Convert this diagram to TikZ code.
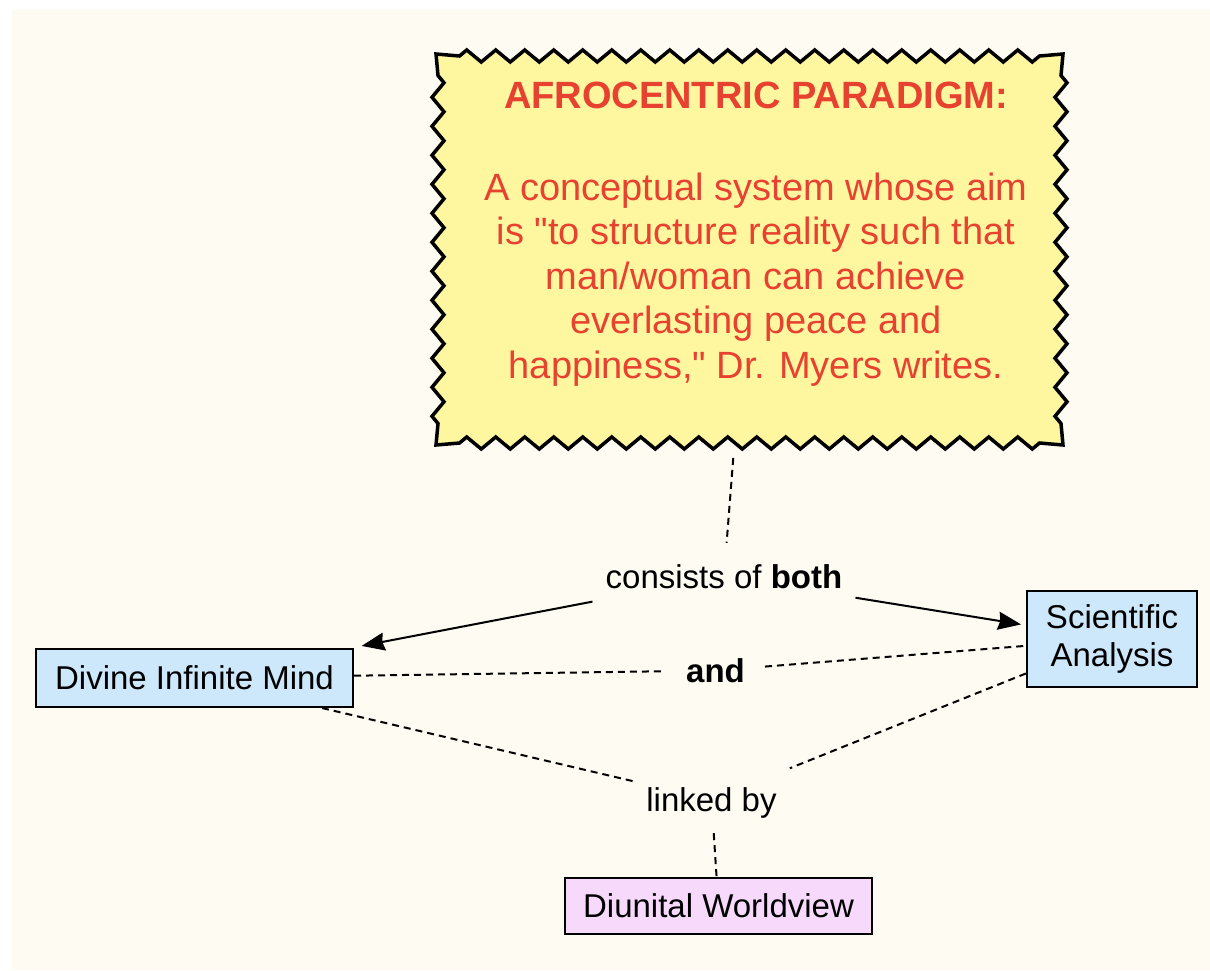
\documentclass[tikz,border=0pt]{standalone}
\usepackage{fontspec}
\setmainfont{Liberation Sans}
\usetikzlibrary{arrows.meta}
\definecolor{bgcream}{RGB}{254,251,243}
\definecolor{paryellow}{RGB}{255,246,160}
\definecolor{parred}{RGB}{231,65,48}
\definecolor{conblue}{RGB}{205,231,251}
\definecolor{conpink}{RGB}{246,217,251}
\begin{document}
\begin{tikzpicture}[x=1pt,y=-1pt,
  concept/.style={draw=black, line width=2pt, font=\fontsize{33}{38}\selectfont, inner sep=0pt, align=center},
  linklabel/.style={font=\fontsize{33}{38}\selectfont, text height=27pt, text depth=4pt, inner xsep=13pt, inner ysep=18pt},
  paratext/.style={font=\fontsize{38}{44.5}\selectfont, text=parred, align=center, inner sep=0pt},
  dashline/.style={draw=black, line width=2pt, dash pattern=on 7pt off 5pt},
  arrowline/.style={draw=black, line width=2pt, -{Stealth[length=23pt,width=18pt,inset=2pt]}},
  zigborder/.style={fill=paryellow, draw=black, line width=3.5pt, line join=miter}
]
\useasboundingbox (0,0) rectangle (1210,970);
\fill[white] (0,0) rectangle (1210,970);
\fill[bgcream] (12,9) rectangle (1210,970);

% paradigm box (627 x 391), zigzag border drawn around it
\node[minimum width=627pt, minimum height=391pt, inner sep=0pt, outer sep=0pt] (para) at (749.5,249.5) {};
\path[zigborder] (para.north west)
  -- ++(23.5,2)
  foreach \i in {1,...,20} { -- ++(7.25,-6) -- ++(14.5,12) -- ++(7.25,-6) }
  -- (para.north east)
  -- ++(-2,21.5)
  foreach \i in {1,...,12} { -- ++(6,7.25) -- ++(-12,14.5) -- ++(6,7.25) }
  -- (para.south east)
  -- ++(-23.5,-2)
  foreach \i in {1,...,20} { -- ++(-7.25,6) -- ++(-14.5,-12) -- ++(-7.25,6) }
  -- (para.south west)
  -- ++(2,-21.5)
  foreach \i in {1,...,12} { -- ++(-6,-7.25) -- ++(12,-14.5) -- ++(-6,-7.25) }
  -- cycle;
\node[paratext, anchor=north] (paratxt) at (756,82) {\textbf{AFROCENTRIC PARADIGM:}\\[47pt]
  A conceptual system whose aim\\ is \textquotedbl to structure reality such that\\ man/woman can achieve\\
  everlasting peace and\\ happiness,\textquotedbl{} Dr. Myers writes.};

% concepts
\node[concept, fill=conblue, minimum width=317pt, minimum height=58pt, text height=27pt, text depth=4pt] (divine) at (194.5,678) {Divine Infinite Mind};
\node[concept, fill=conblue, minimum width=170pt, minimum height=96pt] (sci) at (1112,639) {Scientific\\Analysis};
\node[concept, fill=conpink, minimum width=307pt, minimum height=56pt, text height=27pt, text depth=4pt] (diunital) at (718.5,906) {Diunital Worldview};

% linking phrases
\node[linklabel] (consists) at (724,576.5) {consists of \textbf{both}};
\node[linklabel, inner xsep=20pt] (and) at (715.5,670.5) {\textbf{and}};
\node[linklabel] (linked) at (711.5,799.5) {linked by};

% connectors
\draw[dashline, shorten <=13pt] (para) -- (consists);
\draw[arrowline, shorten >=11pt] (consists) -- (divine);
\draw[arrowline, shorten >=5pt] (consists) -- (sci);
\draw[dashline] (divine) -- (and);
\draw[dashline] (and) -- (sci);
\draw[dashline] (divine) -- (linked);
\draw[dashline] (sci) -- (linked);
\draw[dashline] (linked) -- (diunital);
\end{tikzpicture}
\end{document}
